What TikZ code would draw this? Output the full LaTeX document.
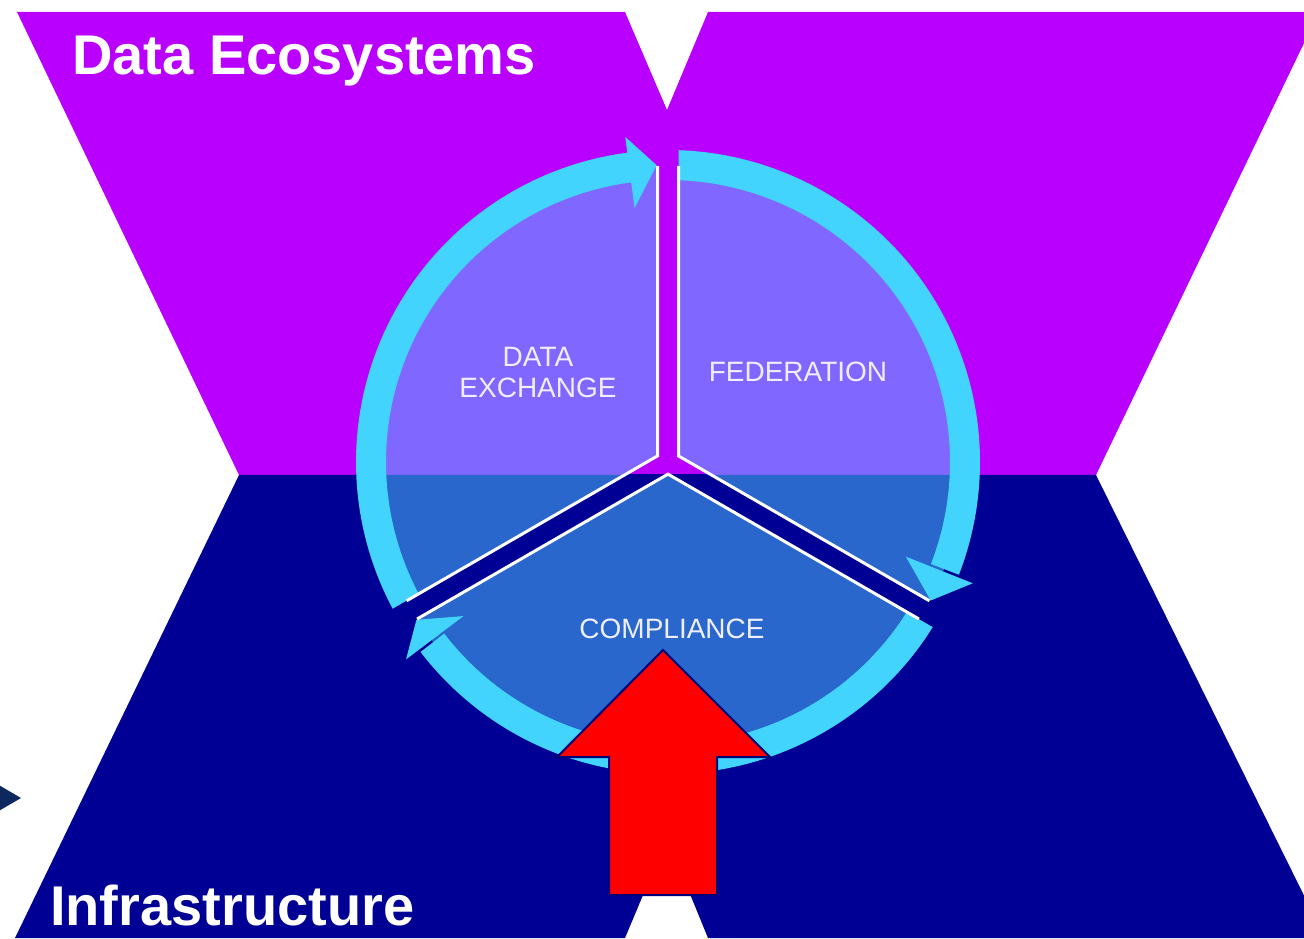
\documentclass[tikz,border=0pt]{standalone}
\usepackage{fontspec}
\setmainfont{Liberation Sans}
\usetikzlibrary{calc}
\definecolor{magbg}{RGB}{185,0,255}
\definecolor{navybg}{RGB}{0,0,148}
\definecolor{ringc}{RGB}{66,212,252}
\definecolor{piec}{RGB}{79,195,255}
\definecolor{labelc}{RGB}{238,238,255}
\definecolor{tricol}{RGB}{13,40,94}
\definecolor{arrowred}{RGB}{255,0,0}
\definecolor{arrowedge}{RGB}{0,0,120}
\begin{document}
\begin{tikzpicture}[x=1pt,y=1pt,
  ring/.style={draw=ringc, line width=30pt},
  head/.style={fill=ringc},
  wline/.style={draw=white, line width=3pt, line join=miter},
  title/.style={text=white, font=\fontsize{56}{60}\selectfont\bfseries, inner sep=0pt, anchor=base west},
  seglabel/.style={text=labelc, font=\fontsize{28}{31}\selectfont, inner sep=0pt, align=center},
  bigarrow/.style={fill=arrowred, draw=arrowedge, line width=2pt, line join=miter}]
\useasboundingbox (0,0) rectangle (1304,938);
\clip (0,0) rectangle (1304,938);
\fill[white] (0,0) rectangle (1304,938);
% background bands
\fill[magbg] (17,926) -- (625,926) -- (667,828) -- (708,926) -- (1319,926) -- (1096,463) -- (239,463) -- cycle;
\fill[navybg] (239,463) -- (1096,463) -- (1325,0) -- (708,0) -- (667,100) -- (625,0) -- (15,0) -- cycle;
% small marker at left
\fill[tricol] (-3,154) -- (21,140) -- (-3,126) -- cycle;
% circle
\coordinate (O) at (668,476);
\fill[piec, fill opacity=0.53] (O) circle[radius=296];
% ring arrows
\draw[ring] ($(O)+(209:297)$) arc[start angle=209, end angle=97, radius=297];
\fill[head] ($(O)+(97.5:256)$) -- ($(O)+(92.2:297)$) -- ($(O)+(97.5:328)$) -- cycle;
\draw[ring] ($(O)+(89:297)$) arc[start angle=89, end angle=-21.2, radius=297];
\fill[head] ($(O)+(-21.7:256)$) -- ($(O)+(-27.8:297)$) -- ($(O)+(-21.7:328)$) -- cycle;
\draw[ring] ($(O)+(-31:297)$) arc[start angle=-31, end angle=-142.5, radius=297];
\fill[head] ($(O)+(-143:256)$) -- ($(O)+(-147.9:297)$) -- ($(O)+(-143:328)$) -- cycle;
% gap geometry
\coordinate (A1) at ($(O)+(150:12.12)$);
\coordinate (A2) at ($(O)+(30:12.12)$);
\coordinate (A3) at ($(O)+(270:12.12)$);
\coordinate (GU1) at ($(O)+(90:340)+(180:10.5)$);
\coordinate (GU2) at ($(O)+(90:340)+(0:10.5)$);
\coordinate (GR1) at ($(O)+(330:340)+(60:10.5)$);
\coordinate (GR2) at ($(O)+(330:340)+(240:10.5)$);
\coordinate (GL1) at ($(O)+(210:340)+(300:10.5)$);
\coordinate (GL2) at ($(O)+(210:340)+(120:10.5)$);
\begin{scope}
  \clip (0,463) rectangle (1304,938);
  \fill[magbg] (A1) -- (GU1) -- (GU2) -- (A2) -- (GR1) -- (GR2) -- (A3) -- (GL1) -- (GL2) -- cycle;
\end{scope}
\begin{scope}
  \clip (0,0) rectangle (1304,463);
  \fill[navybg] (A1) -- (GU1) -- (GU2) -- (A2) -- (GR1) -- (GR2) -- (A3) -- (GL1) -- (GL2) -- cycle;
\end{scope}
% white sector edges
\coordinate (W1) at ($(O)+(90:295.8)+(180:10.5)$);
\coordinate (W2) at ($(O)+(210:295.8)+(120:10.5)$);
\coordinate (W3) at ($(O)+(90:295.8)+(0:10.5)$);
\coordinate (W4) at ($(O)+(330:295.8)+(60:10.5)$);
\coordinate (W5) at ($(O)+(330:295.8)+(240:10.5)$);
\coordinate (W6) at ($(O)+(210:295.8)+(300:10.5)$);
\draw[wline] (W1) -- (A1) -- (W2);
\draw[wline] (W3) -- (A2) -- (W4);
\draw[wline] (W5) -- (A3) -- (W6);
% texts
\node[title] (eco) at (72,863) {Data Ecosystems};
\node[title] (infra) at (50,13) {Infrastructure};
\node[seglabel] (dx) at (538,565.5) {DATA\\EXCHANGE};
\node[seglabel] (fed) at (798,566) {FEDERATION};
\node[seglabel] (comp) at (672,309) {COMPLIANCE};
% red arrow
\draw[bigarrow] (663,288) -- (770,181) -- (717,181) -- (717,43) -- (609,43) -- (609,181) -- (557,181) -- cycle;
\end{tikzpicture}
\end{document}
